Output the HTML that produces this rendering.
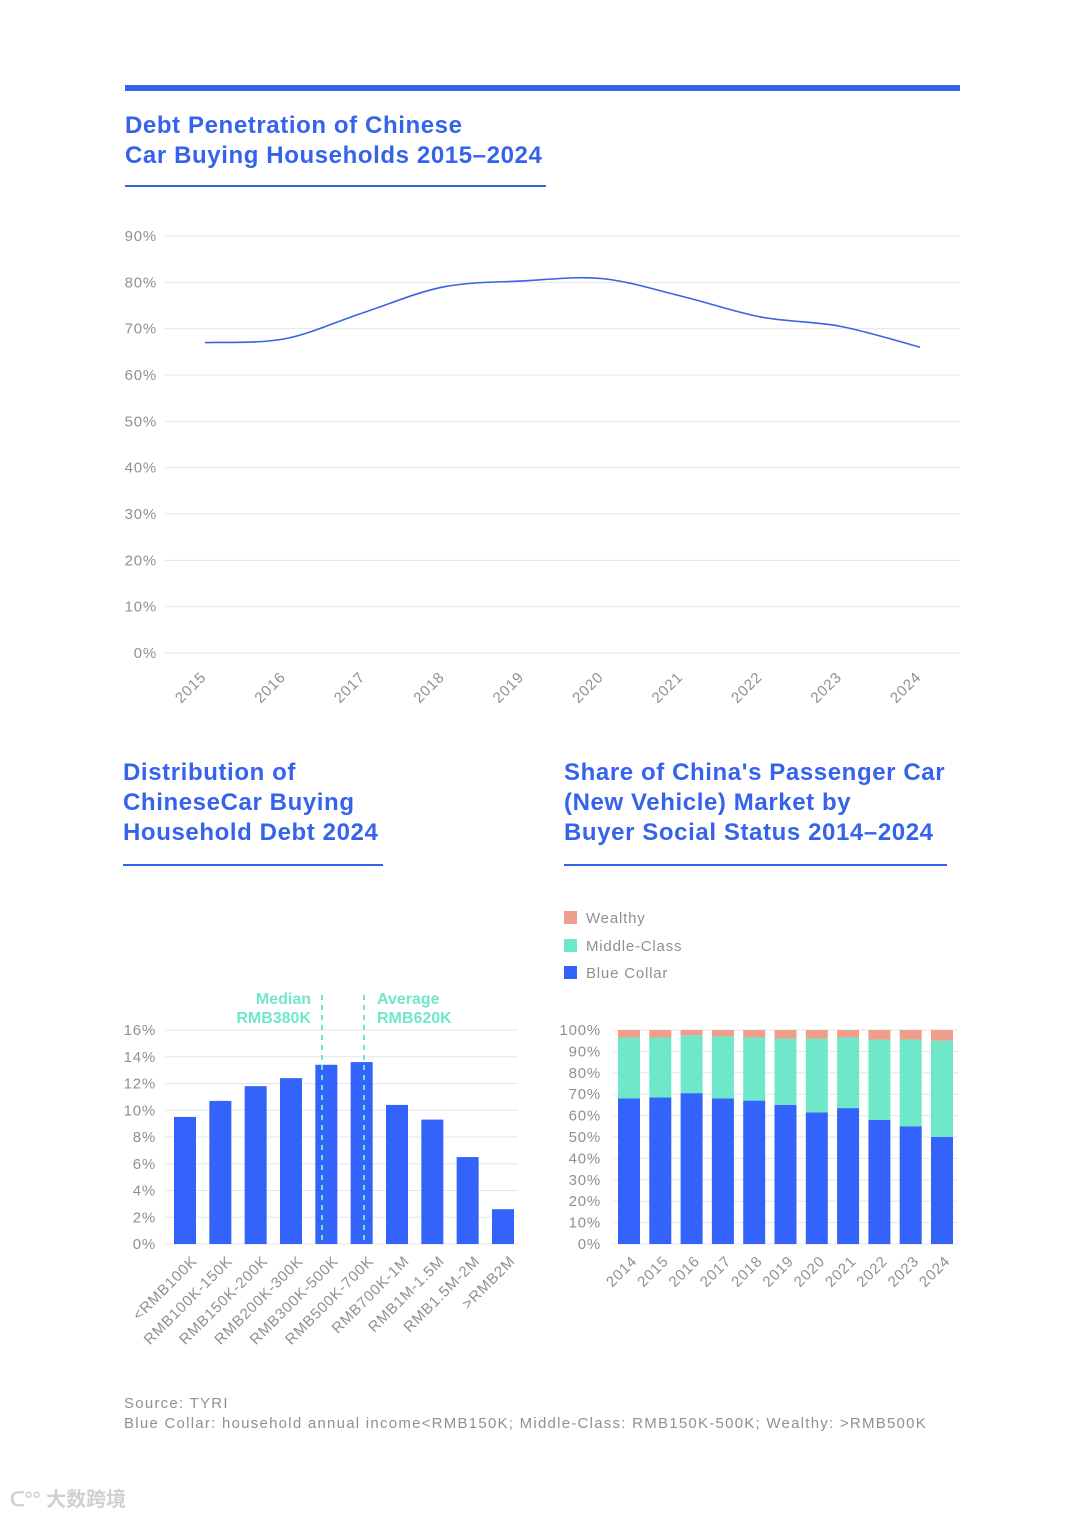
<!DOCTYPE html>
<html><head><meta charset="utf-8">
<style>
body{margin:0;background:#fff;font-family:"Liberation Sans",sans-serif;}
svg{display:block}
.t{font-family:"Liberation Sans",sans-serif;font-weight:bold;fill:#3563ec;font-size:24px;letter-spacing:0.6px}
.ax{fill:#909090;font-size:15px;letter-spacing:0.8px}
.fn{fill:#909090;font-size:15px;letter-spacing:1.25px}
</style></head>
<body>
<svg id="s" width="1080" height="1517" viewBox="0 0 1080 1517">
<rect x="125" y="85" width="835" height="6" fill="#3563ec"/>
<g>
<text class="t" x="125" y="133">Debt Penetration of Chinese</text>
<text class="t" x="125" y="163">Car Buying Households 2015–2024</text>
</g>
<rect x="125" y="185" width="421" height="2" fill="#3563ec"/>
<g>
<text class="t" x="123" y="780">Distribution of</text>
<text class="t" x="123" y="810">ChineseCar Buying</text>
<text class="t" x="123" y="840">Household Debt 2024</text>
</g>
<rect x="123" y="864" width="260" height="2" fill="#3563ec"/>
<g>
<text class="t" x="564" y="780">Share of China's Passenger Car</text>
<text class="t" x="564" y="810">(New Vehicle) Market by</text>
<text class="t" x="564" y="840">Buyer Social Status 2014–2024</text>
</g>
<rect x="564" y="864" width="383" height="2" fill="#3563ec"/>
<g id="c1"></g><g id="c2"></g><g id="c3"></g>
<g>
<rect x="564" y="911" width="13" height="13" fill="#ee9e8a"/>
<text class="ax" x="586" y="923">Wealthy</text>
<rect x="564" y="939" width="13" height="13" fill="#6ee8c8"/>
<text class="ax" x="586" y="951">Middle-Class</text>
<rect x="564" y="966" width="13" height="13" fill="#3363fb"/>
<text class="ax" x="586" y="978">Blue Collar</text>
</g>
<g>
<text class="fn" x="124" y="1408">Source: TYRI</text>
<text class="fn" x="124" y="1428">Blue Collar: household annual income&lt;RMB150K; Middle-Class: RMB150K-500K; Wealthy: &gt;RMB500K</text>
</g>
<text x="10" y="1506" font-size="20" fill="#d0d0d0" font-weight="bold" font-family="Liberation Sans, Noto Sans CJK SC, sans-serif">ᑕ°° 大数跨境</text>
</svg>
<script>
const years1=["2015","2016","2017","2018","2019","2020","2021","2022","2023","2024"];
const pen=[67,67.8,73.5,79,80.3,80.8,77,72.5,70.5,66];
const ticks1=[0,10,20,30,40,50,60,70,80,90];
const cats2=["<RMB100K","RMB100K-150K","RMB150K-200K","RMB200K-300K","RMB300K-500K","RMB500K-700K","RMB700K-1M","RMB1M-1.5M","RMB1.5M-2M",">RMB2M"];
const share2=[9.5,10.7,11.8,12.4,13.4,13.6,10.4,9.3,6.5,2.6];
const ticks2=[0,2,4,6,8,10,12,14,16];
const years3=["2014","2015","2016","2017","2018","2019","2020","2021","2022","2023","2024"];
const blue3=[68,68.5,70.5,68,67,65,61.5,63.5,58,55,50];
const middle3=[28.5,28,27,29,29.5,31,34.5,33,37.5,40.5,45];
const wealthy3=[3.5,3.5,2.5,3,3.5,4,4,3.5,4.5,4.5,5];
const ticks3=[0,10,20,30,40,50,60,70,80,90,100];
const NS="http://www.w3.org/2000/svg";
function mk(p,t,a){const e=document.createElementNS(NS,t);for(const k in a)e.setAttribute(k,a[k]);p.appendChild(e);return e;}
// chart 1
const c1=document.getElementById('c1');
const y1=v=>653-v*(417/90), x1=i=>205+i*(715/9);
ticks1.forEach(t=>{
 const l=mk(c1,'line',{x1:165,x2:960,y1:y1(t),y2:y1(t),stroke:'#e6e6e6'});
 
 
 const tx=mk(c1,'text',{x:157,y:y1(t)+5,'text-anchor':'end',class:'ax'});tx.textContent=t+'%';
 
 
});
years1.forEach((y,i)=>{
 const tx=mk(c1,'text',{x:x1(i)+2,y:678,'text-anchor':'end',class:'ax',transform:`rotate(-45 ${x1(i)+2} 678)`});tx.textContent=y;
 
 
});
let pts=pen.map((v,i)=>[x1(i),y1(v)]);
let d=`M${pts[0][0]},${pts[0][1]}`;
for(let i=0;i<pts.length-1;i++){const p0=pts[Math.max(0,i-1)],p1=pts[i],p2=pts[i+1],p3=pts[Math.min(pts.length-1,i+2)];
 d+=` C${p1[0]+(p2[0]-p0[0])/6},${p1[1]+(p2[1]-p0[1])/6} ${p2[0]-(p3[0]-p1[0])/6},${p2[1]-(p3[1]-p1[1])/6} ${p2[0]},${p2[1]}`;}
const ln=mk(c1,'path',{d:d,fill:'none',stroke:'#3a63e6','stroke-width':1.6});


// chart 2
const c2=document.getElementById('c2');
const y2=v=>1244-v*(214/16), x2=i=>185+i*(318/9);
ticks2.forEach(t=>{
 const l=mk(c2,'line',{x1:165,x2:518,y1:y2(t),y2:y2(t),stroke:'#e6e6e6'});
 
 
 const tx=mk(c2,'text',{x:156,y:y2(t)+5,'text-anchor':'end',class:'ax'});tx.textContent=t+'%';
 
 
});
share2.forEach((v,i)=>{
 const r=mk(c2,'rect',{x:x2(i)-11,y:y2(v),width:22,height:y2(0)-y2(v),fill:'#3363fb'});
 
 
 const tx=mk(c2,'text',{x:x2(i)+13,y:1262,'text-anchor':'end',class:'ax',transform:`rotate(-45 ${x2(i)+13} 1262)`});tx.textContent=cats2[i];
 
 
});
[[322,'Median','RMB380K','end',-11],[364,'Average','RMB620K','start',13]].forEach(a=>{
 const l=mk(c2,'line',{x1:a[0],x2:a[0],y1:995,y2:1244,stroke:'#6ee8c8','stroke-width':2,'stroke-dasharray':'5,5'});
 
 
 const t1=mk(c2,'text',{x:a[0]+a[4],y:1004,'text-anchor':a[3],'font-weight':'bold','font-size':'16',fill:'#6ee8c8'});t1.textContent=a[1];
 
 
 const t2=mk(c2,'text',{x:a[0]+a[4],y:1023,'text-anchor':a[3],'font-weight':'bold','font-size':'16',fill:'#6ee8c8'});t2.textContent=a[2];
 
 
});
// chart 3
const c3=document.getElementById('c3');
const y3=v=>1244-v*(214/100), x3=i=>629+i*(313/10);
ticks3.forEach(t=>{
 const l=mk(c3,'line',{x1:613,x2:958,y1:y3(t),y2:y3(t),stroke:'#e6e6e6'});
 
 
 const tx=mk(c3,'text',{x:601,y:y3(t)+5,'text-anchor':'end',class:'ax'});tx.textContent=t+'%';
 
 
});
years3.forEach((y,i)=>{
 let base=0;
 [[blue3[i],'#3363fb','blue-collar-bar'],[middle3[i],'#6ee8c8','middle-class-bar'],[wealthy3[i],'#ee9e8a','wealthy-bar']].forEach(s=>{
  const r=mk(c3,'rect',{x:x3(i)-11,y:y3(base+s[0]),width:22,height:y3(base)-y3(base+s[0]),fill:s[1]});
  
  
  base+=s[0];
 });
 const tx=mk(c3,'text',{x:x3(i)+9,y:1262,'text-anchor':'end',class:'ax',transform:`rotate(-45 ${x3(i)+9} 1262)`});tx.textContent=y;
 
 
});
</script>
</body></html>
